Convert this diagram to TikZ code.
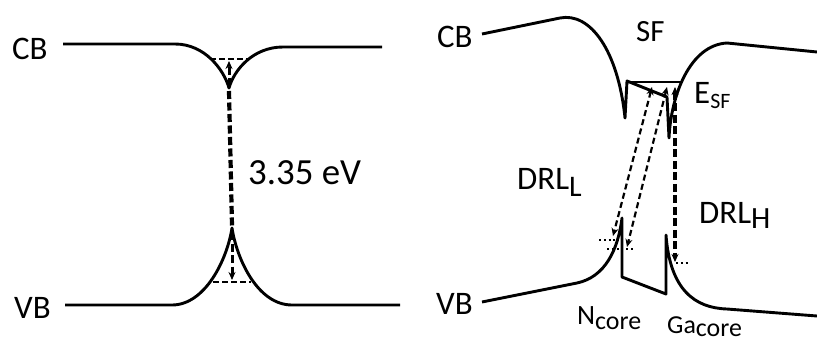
\documentclass[tikz,border=0pt]{standalone}
\usepackage{fontspec}
\setmainfont{Carlito}
\usetikzlibrary{arrows.meta}
\newcommand{\fs}[1]{\fontsize{#1}{#1}\selectfont}
\newcommand{\LowSub}[4]{#1{\fs{#3}\raisebox{-#4}{#2}}}

\begin{document}
\begin{tikzpicture}[x=1bp,y=-1bp,
    band/.style={line width=2.9bp,line join=round},
    lvl/.style={line width=1.8bp},
    lvldash/.style={line width=2.2bp,dash pattern=on 6bp off 3bp},
    gapdash/.style={line width=4.2bp,dash pattern=on 8bp off 3.5bp},
    trdash/.style={line width=2.2bp,dash pattern=on 6bp off 3.5bp},
    dotlvl/.style={line width=2.2bp,dash pattern=on 2bp off 2.8bp},
    lbl/.style={inner sep=0pt,anchor=base west},
    tip/.tip={Stealth[length=8bp,width=7bp]}]
  \useasboundingbox (0,0) rectangle (817,341);
  % bulk GaN
  \draw[band] (63,44) -- (175,44) .. controls (205,44) and (224,70) .. (229,88)
    .. controls (234,70) and (253,47) .. (283,47) -- (382,47);
  \draw[band] (65,305) -- (172,305) .. controls (205,305) and (227,260) .. (232,228)
    .. controls (237,260) and (258,305) .. (292,305) -- (400,305);
  \draw[lvldash] (210,59) -- (250,59);
  \draw[lvldash] (213,282) -- (251,282);
  \draw[gapdash] (229,91) -- (232,226);
  \draw[gapdash,line width=3bp,-tip] (229,86) -- (229,61);
  \draw[gapdash,line width=3bp,-tip] (232,232) -- (232,280);
  \node[lbl,font=\fs{33}] (cbA) at (12,59) {CB};
  \node[lbl,font=\fs{33}] (vbA) at (14,318) {VB};
  \node[lbl,font=\fs{37}] (gap) at (248,184) {3.35 eV};
  % stacking fault
  \draw[band] (482,34) -- (560,18) .. controls (590,12) and (618,50) .. (625,118)
    -- (627,81) -- (667,97) -- (669,138)
    .. controls (671,95) and (690,45) .. (727,43) -- (817,52);
  \draw[lvl] (627,82) -- (682,82);
  \draw[band] (482,302) -- (577,283) .. controls (605,277) and (618,250) .. (622,218)
    -- (622,277) -- (666,294) -- (666,235)
    .. controls (670,290) and (695,308) .. (727,309) -- (817,316);
  \draw[trdash,tip-tip] (652,87) -- (613,236);
  \draw[trdash,tip-tip] (667,87) -- (627,247);
  \draw[gapdash,line width=3.4bp,tip-tip] (675,87) -- (675,262);
  \draw[dotlvl] (599,240) -- (616,240);
  \draw[dotlvl] (607,249) -- (634,249);
  \draw[dotlvl] (676,263) -- (689,263);
  \node[lbl,font=\fs{33}] (cbB) at (437,47) {CB};
  \node[lbl,font=\fs{33}] (vbB) at (436,314) {VB};
  \node[lbl,font=\fs{31}] (sf) at (636,41) {SF};
  \node[lbl,font=\fs{33}] (esf) at (694,103) {\LowSub{E}{SF}{22}{5bp}};
  \node[lbl,font=\fs{33}] (drlL) at (517,189) {\LowSub{DRL}{L}{30}{7bp}};
  \node[lbl,font=\fs{33}] (drlH) at (699,223) {\LowSub{DRL}{H}{31}{5bp}};
  \node[lbl,font=\fs{28}] (ncore) at (577,324) {\LowSub{N}{core}{26}{5bp}};
  \node[lbl,font=\fs{26}] (gacore) at (667,333) {\LowSub{Ga}{core}{26}{3bp}};
\end{tikzpicture}
\end{document}
